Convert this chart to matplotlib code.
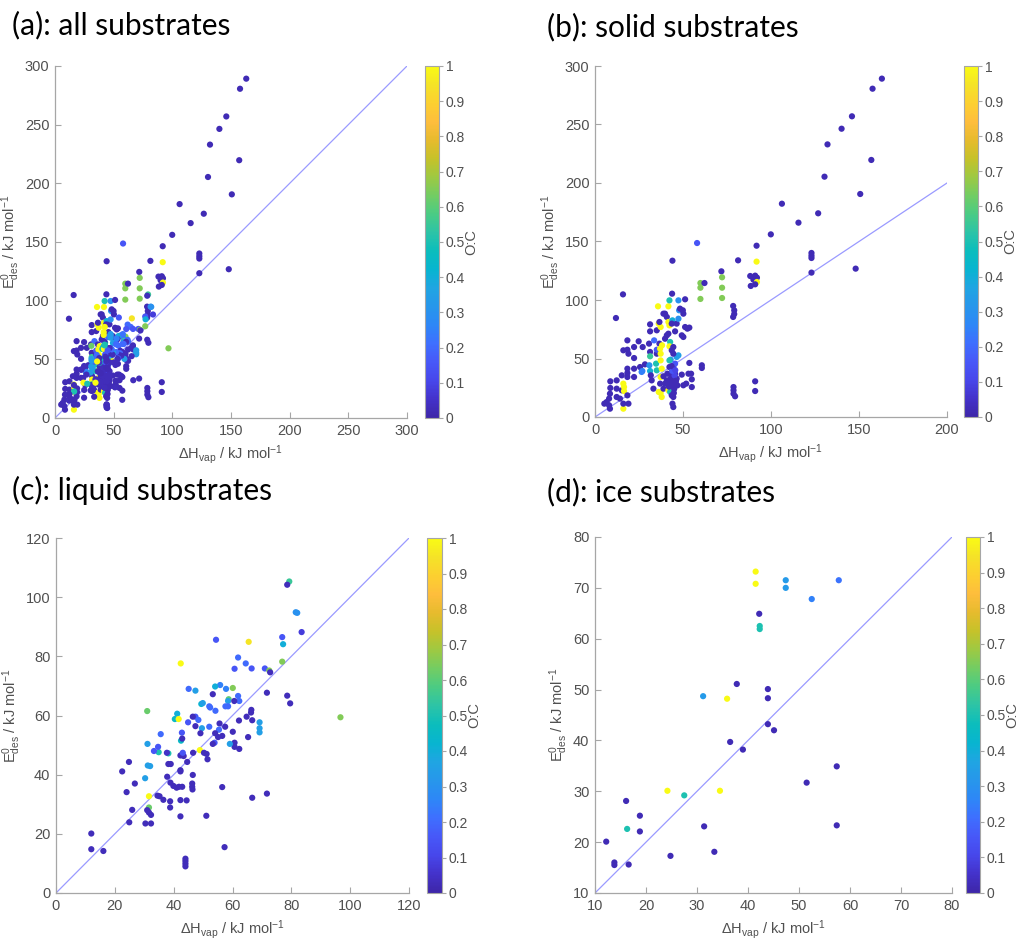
import matplotlib
matplotlib.use("Agg")
import matplotlib.pyplot as plt
import numpy as np
from matplotlib.colors import LinearSegmentedColormap

plt.rcParams["font.family"] = ["Liberation Sans", "DejaVu Sans"]
plt.rcParams["mathtext.default"] = "regular"

# MATLAB parula (every few entries of the 64-colour table)
PARULA = [
    (0.2422, 0.1504, 0.6603), (0.2647, 0.1978, 0.7952), (0.2803, 0.2782, 0.9221),
    (0.2795, 0.3447, 0.9717), (0.2440, 0.4358, 0.9988), (0.1786, 0.5289, 0.9682),
    (0.1540, 0.5902, 0.9218), (0.1248, 0.6459, 0.8883), (0.0297, 0.7082, 0.8163),
    (0.0433, 0.7411, 0.7394), (0.1717, 0.7670, 0.6554), (0.2906, 0.7973, 0.5188),
    (0.4456, 0.8024, 0.3909), (0.6174, 0.7876, 0.2612), (0.7738, 0.7598, 0.1646),
    (0.9035, 0.7330, 0.1774), (0.9956, 0.7434, 0.2371), (0.9892, 0.8136, 0.1885),
    (0.9610, 0.8890, 0.1537), (0.9769, 0.9839, 0.0805),
]
parula = LinearSegmentedColormap.from_list("parula", PARULA)

# ---- solid substrates ----
solid_dh = [
    163.0, 157.7, 146.0, 140.1, 132.1, 157.0, 130.4, 106.2, 150.7, 126.8, 115.6, 99.9, 91.8,
    58.0, 44.0, 81.3, 91.8, 123.0, 123.0, 123.0, 123.0, 148.1, 71.8, 72.2, 72.2, 72.2,
    59.9, 59.9, 59.9, 62.2, 88.2, 91.0, 92.0, 90.0, 92.0, 88.5, 91.0, 78.5, 79.1, 79.1,
    78.5, 78.7, 78.7, 78.7, 79.6, 91.0, 91.0, 11.9, 15.9,
    5.3, 6.6, 8.0, 8.5, 8.0, 8.5, 8.7, 8.7, 12.3, 12.3, 12.3, 14.2, 15.2, 15.2, 16.1,
    16.5, 16.5, 16.1, 16.1, 19.0, 18.4, 18.4, 18.4, 18.4, 16.1, 18.4, 18.4, 19.0, 22.2,
    22.2, 22.2, 22.2, 24.8, 25.6, 27.1, 28.4, 26.9, 26.5, 31.3, 31.3, 30.7, 31.3, 31.3,
    30.9, 31.3, 31.7, 32.2, 33.2, 33.6, 35.1, 35.1, 34.7, 35.1, 35.8, 35.1, 36.2, 37.3,
    36.6, 36.6, 37.0, 37.3, 38.1, 37.3, 37.9, 37.3, 37.0, 36.2, 37.3, 37.9, 38.9, 38.9,
    39.8, 40.8, 39.8, 40.8, 41.7, 41.7, 41.7, 42.3, 42.3, 42.7, 42.3, 43.0, 42.3, 43.8,
    44.0, 43.6, 42.7, 42.3, 41.7, 42.7, 43.6, 44.5, 44.0, 44.5, 43.6, 44.5, 45.5, 46.4,
    45.5, 44.5, 45.5, 46.4, 47.4, 44.5, 43.6, 44.5, 45.5, 46.4, 47.4, 47.8, 47.4, 48.3,
    49.9, 51.2, 50.2, 49.3, 50.2, 51.2, 52.5, 53.6, 49.3, 50.2, 51.8, 53.1, 53.6, 54.6,
    55.0, 55.0, 41.1, 40.8, 39.8, 38.9, 60.7, 60.7,
    43.2, 44.2, 45.0, 43.0, 45.8, 46.8, 42.5, 45.2, 43.8, 44.8, 46.0, 42.0, 43.5, 45.6,
]
solid_e = [
    289.2, 280.6, 257.0, 246.4, 233.0, 219.7, 205.4, 182.3, 190.6, 174.1, 166.1, 156.1, 146.4,
    148.7, 133.6, 133.9, 132.8, 140.2, 137.9, 135.9, 123.4, 126.8, 124.5, 119.4, 110.5, 101.7,
    114.5, 110.5, 100.9, 114.5, 120.5, 120.8, 119.1, 117.4, 115.4, 112.0, 113.4, 94.9, 91.2,
    88.0, 85.5, 25.6, 22.8, 19.9, 17.7, 30.5, 22.2, 84.6, 104.8,
    11.4, 12.8, 10.0, 7.1, 15.7, 19.9, 30.5, 24.8, 31.3, 24.2, 17.1, 15.7, 22.8, 35.6, 28.5,
    25.6, 22.2, 7.1, 11.4, 11.4, 18.5, 34.2, 37.6, 41.3, 57.0, 57.5, 65.5, 54.1, 41.3,
    34.2, 59.8, 50.4, 64.7, 42.7, 59.8, 45.0, 39.3, 38.5, 79.2, 73.2, 62.7, 55.6, 51.9,
    44.2, 39.3, 35.6, 31.3, 24.2, 65.5, 54.1, 57.5, 45.6, 39.9, 94.6, 74.1, 79.8, 76.9,
    81.2, 62.7, 58.4, 54.1, 61.3, 48.4, 41.3, 34.2, 28.5, 21.4, 20.5, 17.1, 24.2, 88.3,
    88.3, 85.5, 66.9, 69.8, 71.2, 94.6, 81.2, 78.3, 99.7, 64.1, 60.4, 49.0, 48.4, 105.4,
    82.6, 79.8, 37.0, 42.7, 22.8, 21.4, 18.5, 17.1, 11.4, 8.5, 31.3, 34.2, 28.5, 32.8,
    37.0, 42.7, 45.6, 51.3, 52.7, 54.1, 57.0, 59.8, 73.2, 79.8, 99.7, 91.2, 84.0, 92.6,
    91.2, 100.6, 88.3, 69.8, 68.4, 76.9, 75.5, 76.4, 36.2, 27.1, 28.5, 37.0, 46.2, 37.0,
    32.2, 25.6, 37.0, 31.3, 28.5, 34.8, 44.2, 41.9,
    30.0, 26.5, 24.0, 33.0, 29.5, 27.0, 28.0, 35.5, 39.5, 20.5, 31.0, 26.0, 43.5, 40.0,
]
solid_oc = [
    0.02, 0.02, 0.02, 0.02, 0.02, 0.02, 0.02, 0.02, 0.02, 0.02, 0.02, 0.02, 0.02,
    0.15, 0.02, 0.02, 1.0, 0.02, 0.02, 0.02, 0.02, 0.02, 0.02, 0.65, 0.65, 0.65,
    0.65, 0.65, 0.65, 0.02, 0.02, 0.02, 0.02, 0.02, 1.0, 0.02, 0.02, 0.02, 0.02, 0.02,
    0.02, 0.02, 0.02, 0.02, 0.02, 0.02, 0.02, 0.02, 0.02,
    0.02, 0.02, 0.02, 0.02, 0.02, 0.02, 0.02, 0.02, 0.02, 0.02, 0.02, 0.02, 0.02, 0.02, 1.0,
    1.0, 1.0, 1.0, 0.02, 0.02, 0.02, 0.02, 0.02, 0.02, 0.02, 0.02, 0.02, 0.02, 0.02,
    0.02, 0.02, 0.02, 0.02, 0.02, 0.02, 0.02, 0.25, 0.25, 0.02, 0.02, 0.02, 0.02, 0.55,
    0.3, 0.4, 0.02, 0.02, 0.02, 0.2, 0.02, 0.15, 0.5, 0.5, 1.0, 0.02, 1.0, 1.0,
    0.02, 0.02, 1.0, 1.0, 1.0, 1.0, 1.0, 1.0, 0.02, 1.0, 1.0, 1.0, 0.02, 0.02,
    0.02, 0.02, 0.02, 0.02, 0.02, 1.0, 1.0, 1.0, 0.5, 0.5, 1.0, 0.3, 0.5, 0.02,
    0.4, 0.02, 0.02, 0.02, 1.0, 0.5, 0.02, 0.02, 0.02, 0.02, 0.02, 0.02, 0.02, 0.02,
    0.02, 0.02, 0.15, 0.35, 0.35, 0.02, 0.02, 0.02, 0.02, 0.02, 0.3, 0.3, 0.3, 0.02,
    0.02, 0.02, 0.02, 0.02, 0.02, 0.02, 0.02, 0.02, 0.02, 0.02, 0.02, 0.02, 0.02, 0.02,
    0.02, 0.02, 0.02, 0.02, 0.02, 0.02, 0.02, 0.02,
    0.02, 0.02, 0.02, 0.02, 0.02, 0.02, 0.02, 0.1, 0.15, 0.02, 0.02, 0.02, 0.02, 0.1,
]

# ---- liquid substrates ----
liquid_dh = [
    79.3, 78.6, 81.5, 82.0, 83.5, 76.9, 77.2, 65.5, 54.4, 42.4, 76.9, 61.9, 64.5, 60.7, 66.5,
    71.0, 72.5, 72.8, 71.7, 78.6, 79.6, 96.7, 60.1, 57.8, 58.7, 58.5, 61.9, 62.3, 60.6, 55.8,
    54.1, 53.3, 45.1, 47.4, 41.2, 40.4, 41.7, 31.0, 49.4, 49.9, 52.1, 52.4, 54.2, 57.6, 58.5,
    64.8, 66.4, 66.3, 66.7, 62.2, 69.2, 69.2, 69.2, 65.3, 60.1, 62.3, 60.7, 60.7, 59.1, 57.5,
    55.6, 55.4, 55.1, 56.5, 54.1, 53.9, 53.3, 52.1, 49.6, 49.1, 47.4, 47.4, 48.4, 46.5, 44.9,
    42.8, 42.5, 42.9, 48.9, 50.3, 51.2, 51.5, 46.6, 44.6, 43.4, 42.3, 43.1, 42.3, 42.3, 46.5,
    42.9, 41.8, 41.0, 39.9, 38.9, 37.8, 46.3, 46.3, 46.4, 56.5, 38.2, 39.0, 38.2, 34.9, 33.3,
    34.7, 35.6, 31.1, 31.2, 32.0, 30.3, 24.8, 22.5, 24.0, 26.8, 31.6, 34.5, 35.2, 36.5, 38.8,
    42.3, 44.4, 31.6, 31.0, 31.6, 32.3, 25.9, 38.8, 42.3, 51.1, 66.7, 71.7, 24.9, 30.4, 32.3,
    12.0, 12.0, 16.1, 57.3, 44.0, 44.0, 44.0, 44.0, 37.7,
]
liquid_e = [
    105.3, 104.2, 94.9, 94.7, 88.2, 86.5, 84.1, 84.9, 85.6, 77.6, 78.2, 79.6, 77.6, 75.8, 75.9,
    75.9, 75.2, 74.6, 67.7, 66.7, 64.1, 59.4, 69.3, 69.0, 65.5, 64.9, 66.6, 64.9, 64.9, 70.3,
    69.8, 67.2, 69.0, 68.4, 60.6, 58.8, 58.8, 61.5, 63.9, 64.2, 63.1, 62.7, 61.6, 63.1, 63.1,
    59.6, 61.9, 61.0, 58.4, 58.3, 57.7, 55.7, 54.3, 52.7, 54.5, 48.7, 49.4, 50.8, 50.4, 56.2,
    57.3, 55.2, 52.7, 53.1, 54.0, 50.8, 50.4, 56.2, 55.7, 54.0, 56.4, 59.6, 58.5, 59.6, 57.7,
    54.2, 51.5, 52.2, 48.3, 47.4, 47.0, 45.2, 47.4, 44.3, 46.3, 46.5, 47.4, 41.5, 41.1, 39.9,
    35.9, 35.9, 35.6, 36.2, 37.3, 39.3, 37.0, 35.9, 35.0, 35.8, 43.6, 43.6, 47.2, 47.6, 48.0,
    49.4, 53.7, 50.4, 43.1, 42.9, 38.8, 44.3, 41.1, 34.1, 37.0, 32.7, 32.9, 32.7, 31.5, 31.0,
    31.4, 31.3, 28.9, 28.0, 27.2, 26.4, 28.1, 28.9, 25.9, 26.1, 32.2, 33.6, 23.9, 23.5, 23.5,
    20.1, 14.8, 14.2, 15.5, 11.6, 10.8, 9.9, 9.0, 47.4,
]
liquid_oc = [
    0.55, 0.03, 0.3, 0.3, 0.08, 0.15, 0.4, 0.95, 0.15, 1.0, 0.65, 0.2, 0.2, 0.15, 0.15,
    0.15, 0.65, 0.03, 0.03, 0.03, 0.03, 0.65, 0.65, 0.25, 0.6, 0.35, 0.2, 0.2, 0.03, 0.25,
    0.4, 0.03, 0.2, 0.35, 0.4, 0.45, 1.0, 0.62, 0.42, 0.35, 0.2, 0.2, 0.2, 0.2, 0.2,
    0.03, 0.03, 0.03, 0.03, 0.03, 0.35, 0.35, 0.35, 0.03, 0.03, 0.03, 0.03, 0.03, 0.35, 0.03,
    0.03, 0.2, 0.03, 0.03, 0.03, 0.15, 0.03, 0.2, 0.35, 0.03, 0.03, 0.15, 0.2, 0.03, 0.15,
    0.15, 0.45, 0.03, 1.0, 0.03, 0.03, 0.03, 0.03, 0.03, 0.03, 0.03, 0.15, 0.03, 0.03, 0.03,
    0.03, 0.03, 0.03, 0.03, 0.03, 0.03, 0.03, 0.03, 0.03, 0.03, 0.03, 0.03, 0.5, 0.5, 0.15,
    0.15, 0.2, 0.35, 0.35, 0.35, 0.35, 0.03, 0.03, 0.03, 0.03, 1.0, 0.03, 0.03, 0.03, 0.03,
    0.03, 0.03, 0.62, 0.03, 0.03, 0.03, 0.03, 0.03, 0.03, 0.03, 0.03, 0.03, 0.03, 0.03, 0.03,
    0.03, 0.03, 0.03, 0.03, 0.03, 0.03, 0.03, 0.03, 0.05,
]

# ---- ice substrates ----
ice_dh = [41.5, 41.5, 47.4, 47.4, 52.5, 57.8, 42.2, 42.3, 42.3, 37.8, 43.9, 43.9, 31.2, 35.9,
          36.5, 39.0, 43.9, 45.1, 57.4, 51.5, 57.4, 24.2, 27.5, 34.5, 31.4, 33.4, 24.8, 16.1,
          18.8, 18.8, 16.3, 12.2, 13.8, 13.8, 16.6]
ice_e = [73.2, 70.8, 71.5, 70.0, 67.8, 71.5, 64.9, 62.5, 61.9, 51.1, 50.1, 48.3, 48.7, 48.2,
         39.7, 38.2, 43.2, 42.0, 34.9, 31.7, 23.3, 30.1, 29.2, 30.1, 23.1, 18.1, 17.3, 28.1,
         25.2, 22.1, 22.6, 20.1, 16.0, 15.5, 15.6]
ice_oc = [1.0, 1.0, 0.33, 0.33, 0.25, 0.22, 0.02, 0.5, 0.5, 0.02, 0.02, 0.02, 0.33, 1.0,
          0.02, 0.02, 0.02, 0.02, 0.02, 0.02, 0.02, 1.0, 0.5, 1.0, 0.02, 0.02, 0.02, 0.02,
          0.02, 0.02, 0.5, 0.02, 0.02, 0.02, 0.02]

all_dh = solid_dh + liquid_dh + ice_dh
all_e = solid_e + liquid_e + ice_e
all_oc = solid_oc + liquid_oc + ice_oc

PANELS = [
    # title, x, y, c, (lo, hi), xlim, ylim, step, axes px (l, r, top, bottom), cbar px (l, r), title px
    ("(a): all substrates", all_dh, all_e, all_oc, (0, 300), (0, 300), (0, 300), 50,
     (55, 407, 66, 418), (425, 439), (12, 25)),
    ("(b): solid substrates", solid_dh, solid_e, solid_oc, (0, 200), (0, 200), (0, 300), 50,
     (595, 947, 66, 417), (964, 978), (547, 27)),
    ("(c): liquid substrates", liquid_dh, liquid_e, liquid_oc, (0, 120), (0, 120), (0, 120), 20,
     (56, 409, 538, 893), (427, 442), (12, 490)),
    ("(d): ice substrates", ice_dh, ice_e, ice_oc, (10, 80), (10, 80), (10, 80), 10,
     (595, 952, 537, 893), (966, 980), (547, 492)),
]

W, H = 1020, 939
fig = plt.figure(figsize=(W / 100, H / 100), dpi=100)

AX_GREY = "#a6a6a6"
TXT_GREY = "#505050"

for title, xs, ys, cs, (lo, hi), xlim, ylim, step, (l, r, t, b), (cl, cr), (tx, ty) in PANELS:
    ax = fig.add_axes([l / W, 1 - b / H, (r - l) / W, (b - t) / H])
    ax.plot([lo, hi], [lo, hi], color="#9a9aff", linewidth=0.9, zorder=1)
    sc = ax.scatter(xs, ys, c=cs, cmap=parula, vmin=0, vmax=1, s=20,
                    linewidths=0, zorder=2)
    ax.set_xlim(*xlim)
    ax.set_ylim(*ylim)
    ax.set_xticks(np.arange(xlim[0], xlim[1] + 1, step))
    ax.set_yticks(np.arange(ylim[0], ylim[1] + 1, 50 if ylim[1] == 300 else step))
    for side in ("top", "right"):
        ax.spines[side].set_visible(False)
    for side in ("left", "bottom"):
        ax.spines[side].set_color(AX_GREY)
        ax.spines[side].set_linewidth(0.9)
    ax.tick_params(direction="in", length=4, width=0.8, color=AX_GREY,
                   labelcolor=TXT_GREY, labelsize=10.5, pad=4)
    ax.set_xlabel(r"$\Delta$H$_{vap}$ / kJ mol$^{-1}$", color=TXT_GREY, fontsize=10.5, labelpad=4)
    ax.set_ylabel(r"E$^{0}_{des}$ / kJ mol$^{-1}$", color=TXT_GREY, fontsize=10.5, labelpad=2)

    cax = fig.add_axes([cl / W, 1 - b / H, (cr - cl) / W, (b - t) / H])
    cb = fig.colorbar(sc, cax=cax)
    cb.set_ticks(np.arange(0, 1.01, 0.1))
    cb.set_ticklabels(["0"] + [f"{v:.1f}" for v in np.arange(0.1, 0.95, 0.1)] + ["1"])
    cb.outline.set_edgecolor(AX_GREY)
    cb.outline.set_linewidth(0.8)
    cax.tick_params(direction="out", length=3, width=0.8, color=AX_GREY,
                    labelcolor=TXT_GREY, labelsize=10, pad=2)
    # colour-bar title placed by hand, centred ~32 px right of the bar
    cax.text((cr + 32 - cl) / (cr - cl), 0.5, "O:C", transform=cax.transAxes,
             rotation=90, ha="center", va="center", color=TXT_GREY, fontsize=10.5)

    fig.text(tx / W, 1 - ty / H, title, family=["Lato", "DejaVu Sans"],
             fontsize=21.5, ha="left", va="center", color="black")

fig.savefig("out.png", dpi=100)
